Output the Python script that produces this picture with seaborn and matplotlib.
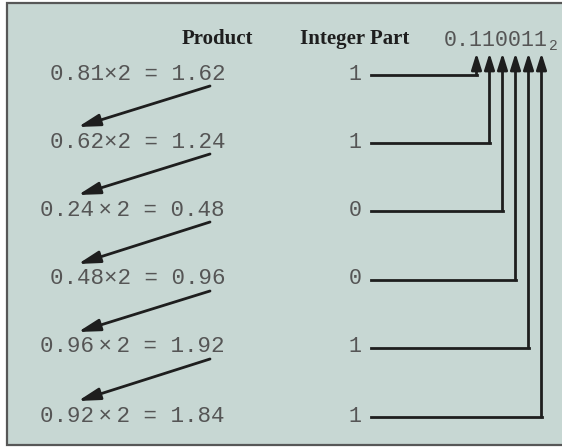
import matplotlib
matplotlib.use("Agg")
import matplotlib.pyplot as plt
from matplotlib.patches import Rectangle
import seaborn as sns
import pandas as pd

# data: decimal fraction -> binary, multiply by 2 repeatedly
multipliers = [0.81, 0.62, 0.24, 0.48, 0.96, 0.92]
products = [1.62, 1.24, 0.48, 0.96, 1.92, 1.84]
int_parts = [1, 1, 0, 0, 1, 1]
# the original typesetting puts a narrow space around "×" on some rows
narrow_x = [False, False, True, False, True, True]

header_product = "Product"
header_int = "Integer Part"
binary_text = "0." + "".join(str(b) for b in int_parts)

# colours
bg = "#c7d7d3"
ink = "#1e1e1e"
grey_text = "#555555"

sns.set_theme(style="white")
plt.rcParams["font.family"] = ["Liberation Mono", "DejaVu Sans"]

fig = plt.figure(figsize=(5.62, 4.47), dpi=100)
ax = fig.add_axes([0, 0, 1, 1])

# panel
ax.add_patch(Rectangle((7, 3), 570, 442, facecolor=bg, edgecolor="#575757", lw=1.6, zorder=0))

fs_mono = 15.6
fs_rows = 16.2
char_w = 0.6 * fs_mono * 100 / 72  # Liberation Mono advance in pixels

row_y = [74, 142, 210, 279, 347, 416]
head_y = 39
bits_x0 = 444
bits_y = 41
arrow_tip_y = 53
line_x0 = 371

# headers
ax.text(217, head_y, header_product, ha="center", va="center", fontsize=15,
        fontweight="bold", family="Liberation Serif", color=ink)
ax.text(355, head_y, header_int, ha="center", va="center", fontsize=15,
        fontweight="bold", family="Liberation Serif", color=ink)
ax.text(bits_x0, bits_y, binary_text, ha="left", va="center", fontsize=fs_mono,
        color=grey_text)
ax.text(bits_x0 + len(binary_text) * char_w + 1, bits_y + 5, "2", ha="left",
        va="center", fontsize=10.5, color=grey_text)

# product rows
for i, (m, p, b, nx) in enumerate(zip(multipliers, products, int_parts, narrow_x)):
    sep = "\u2009×\u2009" if nx else "×"
    label = f"{m:.2f}{sep}2 = {p:.2f}"
    ax.text(225, row_y[i], label, ha="right", va="center", fontsize=fs_rows, color=grey_text)
    ax.text(355, row_y[i], str(b), ha="center", va="center", fontsize=fs_mono, color=grey_text)

# diagonal arrows from each product to the next row
for i in range(len(row_y) - 1):
    ax.annotate("", xy=(78, row_y[i + 1] - 15), xytext=(210, row_y[i] + 12),
                arrowprops=dict(arrowstyle="-|>,head_length=1.1,head_width=0.3",
                                lw=2, color=ink, shrinkA=0, shrinkB=0))

# elbow connectors from integer part up to its binary digit
rows = []
for i, y in enumerate(row_y):
    xk = bits_x0 + (2 + i + 0.5) * char_w
    rows.append({"row": i, "x": line_x0, "y": y + 1})
    rows.append({"row": i, "x": xk, "y": y + 1})
    ax.annotate("", xy=(xk, arrow_tip_y), xytext=(xk, y + 1),
                arrowprops=dict(arrowstyle="-|>,head_length=0.8,head_width=0.25",
                                lw=2, color=ink, shrinkA=0, shrinkB=0))
conn = pd.DataFrame(rows)
sns.lineplot(data=conn, x="x", y="y", units="row", estimator=None, sort=False,
             color=ink, lw=2, ax=ax, legend=False, solid_capstyle="projecting")
ax.set_xlim(0, 562)
ax.set_ylim(447, 0)
ax.axis("off")

fig.savefig("out.png", dpi=100, facecolor="white")
